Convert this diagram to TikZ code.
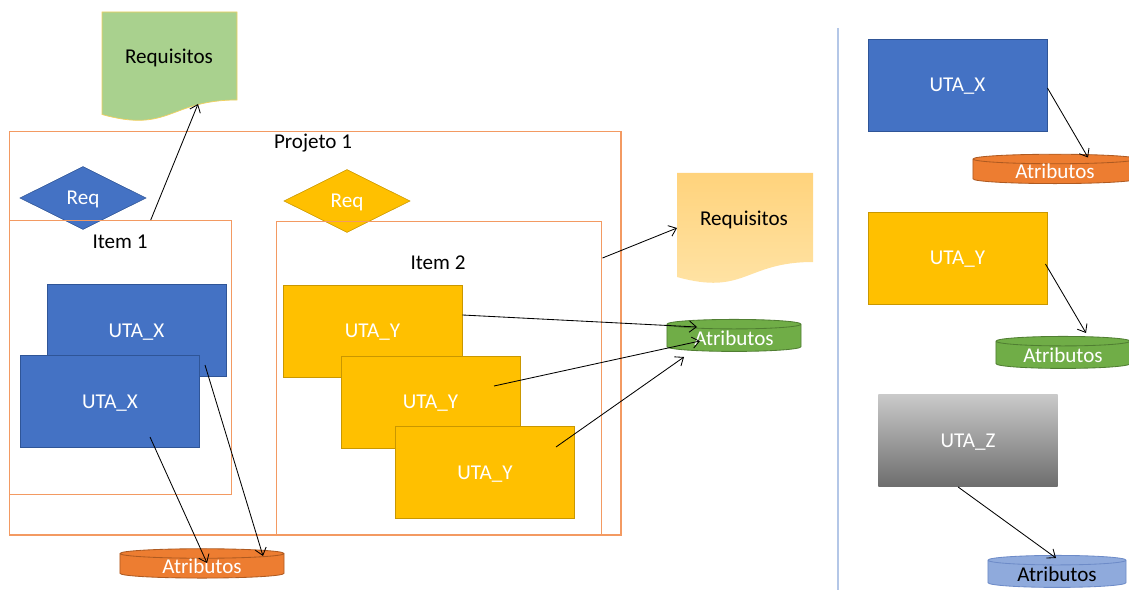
\documentclass[tikz,border=0pt]{standalone}
\usepackage{fontspec}
\setmainfont{Carlito}
\usetikzlibrary{positioning}
\usetikzlibrary{shapes.geometric}
\usetikzlibrary{arrows.meta,calc}

\definecolor{utablue}{HTML}{4472C4}
\definecolor{utablueline}{HTML}{2F5597}
\definecolor{utayellow}{HTML}{FFC000}
\definecolor{utayellowline}{HTML}{C99700}
\definecolor{atrorange}{HTML}{ED7D31}
\definecolor{atrorangeline}{HTML}{AE5A21}
\definecolor{atrgreen}{HTML}{70AD47}
\definecolor{atrgreenline}{HTML}{507E32}
\definecolor{atrblue}{HTML}{8FAADC}
\definecolor{atrblueline}{HTML}{6D8BC8}
\definecolor{docgreen}{HTML}{A9D18E}
\definecolor{docgreenline}{HTML}{F2D060}
\definecolor{docorangetop}{HTML}{FFD37C}
\definecolor{docorangebot}{HTML}{FFE4A8}
\definecolor{frameorange}{HTML}{F39A62}
\definecolor{sepblue}{HTML}{B4C7E7}

\tikzset{
 frame/.style={draw=frameorange, line width=1pt, anchor=north west, inner sep=0pt},
 reqdiam/.style={diamond, minimum width=3.15cm, minimum height=1.575cm, inner sep=0pt, text=white},
 uta/.style={rectangle, minimum width=4.475cm, minimum height=2.3cm, text=white, line width=0.6pt},
 atrib/.style={cylinder, shape border rotate=90, aspect=0.12, text=white, line width=0.6pt, inner sep=0pt},
 link/.style={-{Straight Barb[length=5pt,width=8pt]}, line width=0.6pt},
}

\begin{document}
\begin{tikzpicture}[x=0.025cm, y=-0.025cm, font=\fontsize{15}{18}\selectfont,
 every node/.append style={text depth=0pt}]
\useasboundingbox (0,0) rectangle (1129,590);

% documentos
\draw[fill=docgreen, draw=docgreenline, line width=0.5pt] (102,12) -- (237,12) -- (237,100)
 .. controls (169.5,100) and (169.5,133.5) .. (102,114.5) -- cycle;
\node (reqdocA) at (169,56) {Requisitos};
\coordinate (reqdocA-w) at (198,104);

\shade[top color=docorangetop, bottom color=docorangebot] (677,173) -- (813,173) -- (813,262)
 .. controls (745,262) and (745,296) .. (677,277) -- cycle;
\node (reqdocB) at (744,218) {Requisitos};
\coordinate (reqdocB-w) at (677,228);

% projeto
\node[frame, minimum width=15.275cm, minimum height=10.075cm] (projeto) at (9,131) {};
\node at (313,141) {Projeto 1};

\node[reqdiam, fill=utablue, draw=utablueline] (reqA) at (83,198) {Req};
\node[reqdiam, fill=utayellow, draw=utayellowline] (reqB) at (347,201) {Req};

\node[frame, minimum width=5.55cm, minimum height=6.85cm] (item1) at (9,220) {};
\node at (120,242) {Item 1};
\node[frame, minimum width=8.125cm, minimum height=7.825cm] (item2) at (276,221) {};
\node at (438,263) {Item 2};

\node[uta, fill=utablue, draw=utablueline] (uxa) at (136.5,330.5) {UTA\_X};
\node[uta, fill=utablue, draw=utablueline] (uxb) at (110,401.5) {UTA\_X};

\node[uta, fill=utayellow, draw=utayellowline] (uya) at (372.5,331) {UTA\_Y};
\node[uta, fill=utayellow, draw=utayellowline] (uyb) at (430.5,402) {UTA\_Y};
\node[uta, fill=utayellow, draw=utayellowline] (uyc) at (485,472.5) {UTA\_Y};

\node[atrib, fill=atrorange, draw=atrorangeline, minimum width=4.1cm, minimum height=0.7cm] (atrA) at (202,566) {Atributos};
\node[atrib, fill=atrgreen, draw=atrgreenline, minimum width=3.35cm, minimum height=0.8cm] (atrB) at (734,338) {Atributos};

% lado direito
\draw[sepblue, line width=0.8pt] (838,28) -- (838,590);

\node[uta, fill=utablue, draw=utablueline] (rux) at (957.5,85) {UTA\_X};
\node[uta, fill=utayellow, draw=utayellowline] (ruy) at (957.5,258) {UTA\_Y};
\node[uta, top color=black!21, bottom color=black!57, text=white] (ruz) at (968,440.5) {UTA\_Z};

\node[atrib, fill=atrorange, draw=atrorangeline, minimum width=4.1cm, minimum height=0.72cm] (ratrX) at (1055,171.5) {Atributos};
\node[atrib, fill=atrgreen, draw=atrgreenline, minimum width=3.35cm, minimum height=0.8cm] (ratrY) at (1063,355) {Atributos};
\node[atrib, fill=atrblue, draw=atrblueline, text=black, minimum width=3.45cm, minimum height=0.8cm] (ratrZ) at (1057,574) {Atributos};

% ligacoes
\draw[link] ($(item1.north)+(30,0)$) -- (reqdocA-w);
\draw[link] ($(uxa.center)+(68.5,34.5)$) -- ($(atrA.center)+(61,-10)$);
\draw[link] ($(uxb.center)+(40,35.5)$) -- ($(atrA.center)+(5,-3)$);
\draw[link] ($(uya.east)+(0,-16)$) -- ($(atrB.center)+(-37,-11)$);
\draw[link] ($(uyb.center)+(63.5,-16)$) -- ($(atrB.center)+(-34,3)$);
\draw[link] ($(uyc.center)+(71,-25.5)$) -- ($(atrB.center)+(-50,19)$);
\draw[link] ($(item2.north east)+(0,37)$) -- (reqdocB-w);
\draw[link] ($(rux.east)+(0,3)$) -- ($(ratrX.center)+(33,-14)$);
\draw[link] ($(ruy.east)+(-2,6)$) -- ($(ratrY.center)+(23,-22)$);
\draw[link] ($(ruz.south)+(-10,0)$) -- ($(ratrZ.center)+(-1,-16)$);
\end{tikzpicture}
\end{document}
